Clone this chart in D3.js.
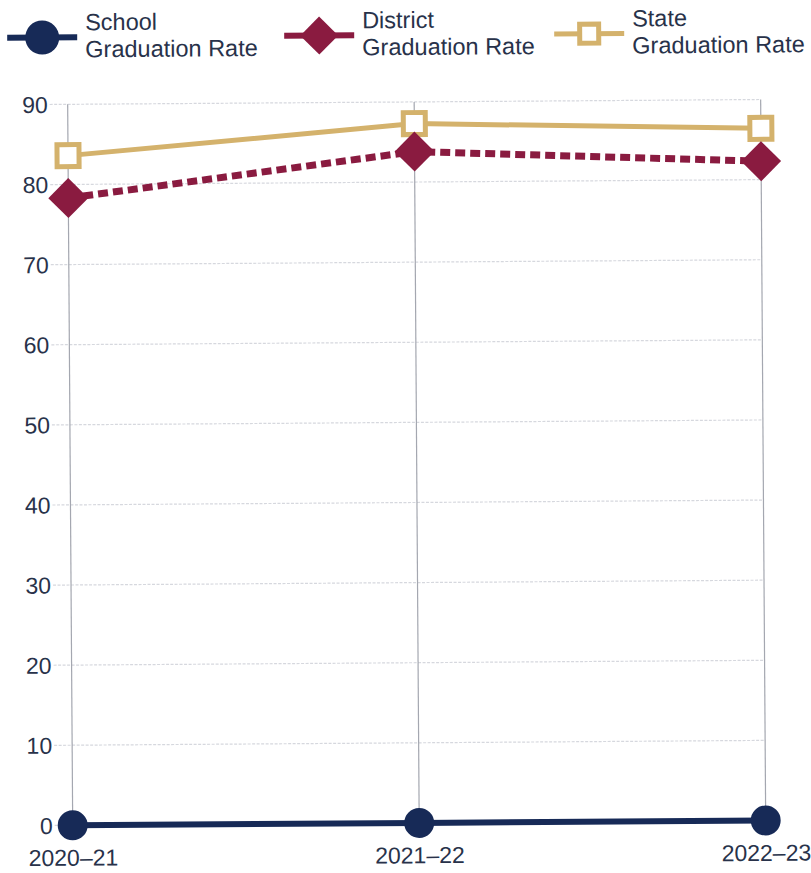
<!DOCTYPE html>
<html>
<head>
<meta charset="utf-8">
<script src="https://cdn.jsdelivr.net/npm/d3@7"></script>
<style>
  html, body { margin: 0; padding: 0; background: #fff; }
  svg { display: block; font-family: "Liberation Sans", Arial, sans-serif; }
</style>
</head>
<body>
<svg id="chart" width="811" height="873"></svg>
<script>
// Graduation rates by school year
const years = ["2020–21", "2021–22", "2022–23"];
const schoolRate = [0, 0, 0];
const districtRate = [78.3, 83.8, 82.3];
const stateRate = [83.6, 87.3, 86.4];
const yTicks = [0, 10, 20, 30, 40, 50, 60, 70, 80, 90];

const seriesNames = ["School\nGraduation Rate", "District\nGraduation Rate", "State\nGraduation Rate"];

const colors = { school: "#172a57", district: "#8a1b40", state: "#d4b26c" };

const svg = d3.select("#chart");
const W = 811, H = 873;
// whole page is drawn with a slight tilt
const root = svg.append("g").attr("transform", `rotate(-0.4, ${W / 2}, ${H / 2})`);

const x = d3.scalePoint().domain(years).range([70, 763]);
const y = d3.scaleLinear().domain([0, 90]).range([823, 102]);

// horizontal grid
root.append("g").selectAll("line").data(yTicks).join("line")
  .attr("x1", 52).attr("x2", x(years[2]))
  .attr("y1", d => y(d)).attr("y2", d => y(d))
  .attr("stroke", "#d6d8de").attr("stroke-width", 1.2)
  .attr("stroke-dasharray", "3,1.5");

// vertical grid
root.append("g").selectAll("line").data(years).join("line")
  .attr("x1", d => x(d)).attr("x2", d => x(d))
  .attr("y1", y(90)).attr("y2", y(0))
  .attr("stroke", "#a4a7b0").attr("stroke-width", 1.2);

// y axis labels
const yAxis = d3.axisLeft(y).tickValues(yTicks).tickSize(0).tickPadding(0);
const yg = root.append("g").attr("transform", "translate(50,0)").call(yAxis);
yg.select(".domain").remove();
yg.selectAll("text").attr("font-size", 23).attr("fill", "#28324a")
  .attr("font-family", "Liberation Sans, Arial, sans-serif").attr("dy", "0.34em");

// x axis labels
const xAxis = d3.axisBottom(x).tickSize(0).tickPadding(0);
const xg = root.append("g").attr("transform", "translate(0,847)").call(xAxis);
xg.select(".domain").remove();
xg.selectAll("text").attr("font-size", 23).attr("fill", "#28324a")
  .attr("font-family", "Liberation Sans, Arial, sans-serif").attr("dy", "0.71em");

const line = d3.line().x((d, i) => x(years[i])).y(d => y(d));

// State series
root.append("path").datum(stateRate).attr("d", line)
  .attr("fill", "none").attr("stroke", colors.state).attr("stroke-width", 5);
// District series
root.append("path").datum(districtRate).attr("d", line)
  .attr("fill", "none").attr("stroke", colors.district).attr("stroke-width", 7)
  .attr("stroke-dasharray", "10,5");
// School series
root.append("path").datum(schoolRate).attr("d", line)
  .attr("fill", "none").attr("stroke", colors.school).attr("stroke-width", 6);

// markers
function drawSquare(g, cx, cy, s) {
  g.append("rect").attr("x", cx - s / 2).attr("y", cy - s / 2)
    .attr("width", s).attr("height", s)
    .attr("fill", "#fff").attr("stroke", colors.state).attr("stroke-width", 5);
}
function drawDiamond(g, cx, cy, r) {
  g.append("path").attr("d", `M${cx},${cy - r}L${cx + r},${cy}L${cx},${cy + r}L${cx - r},${cy}Z`)
    .attr("fill", colors.district);
}
function drawCircle(g, cx, cy, r) {
  g.append("circle").attr("cx", cx).attr("cy", cy).attr("r", r).attr("fill", colors.school);
}

stateRate.forEach((v, i) => drawSquare(root, x(years[i]), y(v), 22));
districtRate.forEach((v, i) => drawDiamond(root, x(years[i]), y(v), 20));
schoolRate.forEach((v, i) => drawCircle(root, x(years[i]), y(v), 15));

// legend
const legend = root.append("g");
const legendItems = [
  { key: "school", lx: 10, name: seriesNames[0] },
  { key: "district", lx: 287, name: seriesNames[1] },
  { key: "state", lx: 557, name: seriesNames[2] }
];
legendItems.forEach(item => {
  const cy = 35, cx = item.lx + 35;
  const g = legend.append("g");
  g.append("line").attr("x1", item.lx).attr("x2", item.lx + 70)
    .attr("y1", cy).attr("y2", cy)
    .attr("stroke", colors[item.key])
    .attr("stroke-width", item.key === "state" ? 5 : 6);
  if (item.key === "school") drawCircle(g, cx, cy, 17);
  if (item.key === "district") drawDiamond(g, cx, cy, 19);
  if (item.key === "state") drawSquare(g, cx, cy, 19);
  const t = g.append("text").attr("x", item.lx + 78).attr("y", 28)
    .attr("font-size", 23.5).attr("fill", "#28324a");
  item.name.split("\n").forEach((s, j) => {
    t.append("tspan").attr("x", item.lx + 78).attr("dy", j === 0 ? 0 : 27).text(s);
  });
});
</script>
</body>
</html>
